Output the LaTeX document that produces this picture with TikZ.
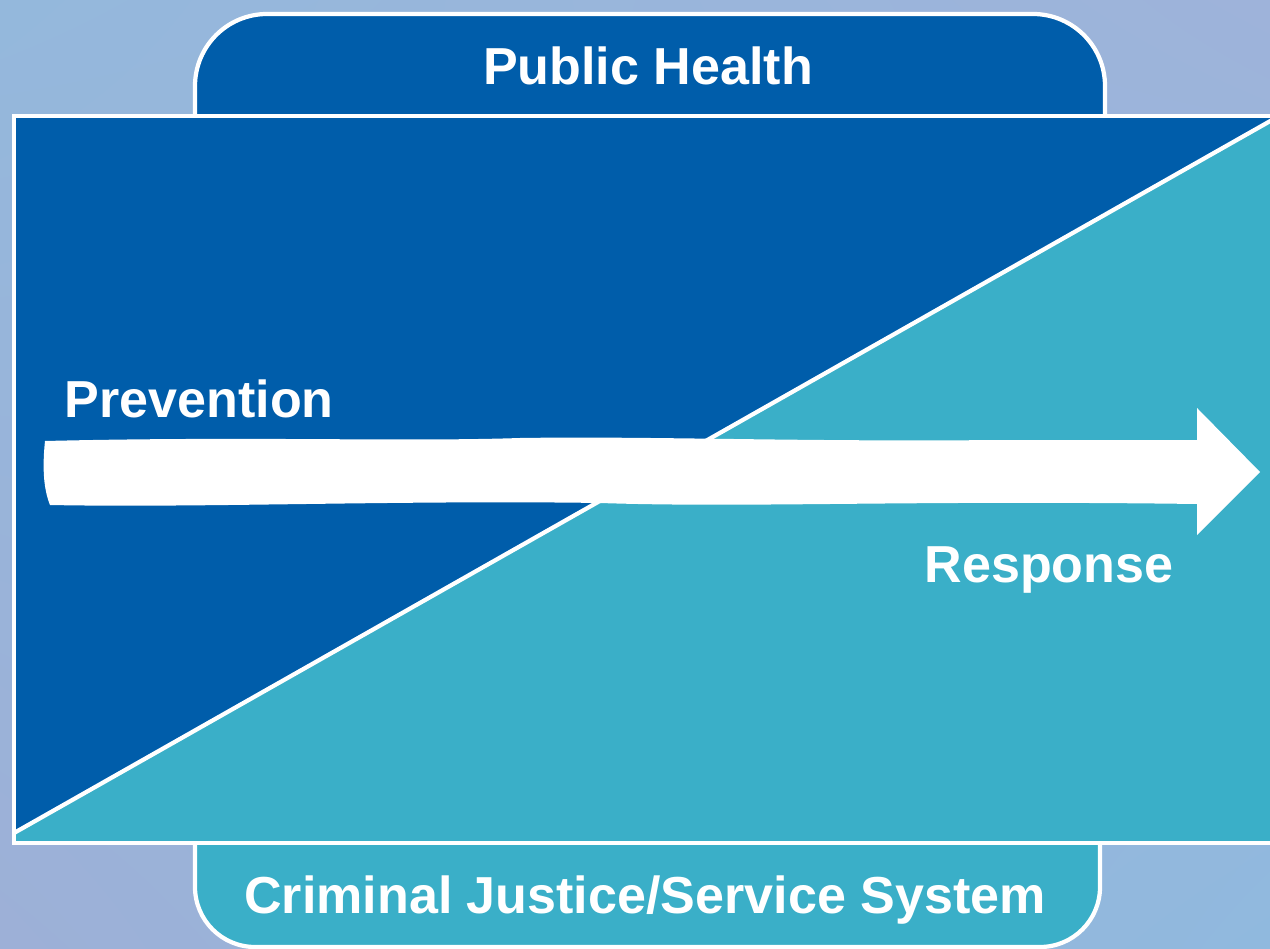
\documentclass[tikz,border=0pt]{standalone}
\usepackage{fontspec}
\setmainfont{Liberation Sans}
\usepackage{tikz}
\usetikzlibrary{shadings}

\definecolor{phblue}{RGB}{0,93,170}
\definecolor{cjteal}{RGB}{58,175,200}
\definecolor{bgul}{RGB}{148,184,220}
\definecolor{bgur}{RGB}{158,179,218}
\definecolor{bgll}{RGB}{157,176,215}
\definecolor{bglr}{RGB}{144,185,222}

\tikzset{
	edge/.style={draw=white, line width=1.2pt},
	label/.style={color=white, font=\bfseries\fontsize{14.8}{17}\selectfont, inner sep=0pt}
}

\begin{document}
\begin{tikzpicture}[x=0.01cm, y=-0.01cm]
		\useasboundingbox (0,0) rectangle (1270,949);
		\clip (0,0) rectangle (1270,949);
		\shade [upper left=bgul, upper right=bgur, lower left=bgll, lower right=bglr] (0,0) rectangle (1270,949);
		
		% tabs
		\draw [edge, fill=phblue, rounded corners=0.72cm] (195,120) -- (195,14) -- (1105,14) -- (1105,120);
		\draw [edge, fill=cjteal, rounded corners=0.6cm] (195,840) -- (195,947) -- (1100,947) -- (1100,840);
		
		% main box
		\coordinate (low) at (14,833);
		\coordinate (high) at (1280,115.5);
		\fill [phblue] (14,116) rectangle (1280,843);
		\fill [cjteal] (low) -- (high) -- (1280,843) -- (14,843) -- cycle;
		\draw [edge] (low) -- (high);
		\draw [edge] (1280,116) -- (14,116) -- (14,843) -- (1280,843);
		
		% arrow
		\coordinate (start) at (45,472);
		\coordinate (tip) at (1260,472);
		\fill [white] (45,441) .. controls (250,436) and (400,442) .. (520,438)
			.. controls (650,436) and (800,442) .. (1000,440) -- (1197,440) -- (1197,408)
			-- (tip) -- (1197,535) -- (1197,504)
			.. controls (900,500) and (750,508) .. (600,503)
			.. controls (400,500) and (200,508) .. (50,505)
			.. controls (44,490) and (42,470) .. (45,441) -- cycle;
		
		\node [label, anchor=base] (ph) at (648,85) {Public Health};
		\node [label, anchor=base west] (prev) at (64,417) {Prevention};
		\node [label, anchor=base east] (resp) at (1174,582) {Response};
		\node [label, anchor=base] (cj) at (645,913) {Criminal Justice/Service System};
		
	\end{tikzpicture}
\end{document}
